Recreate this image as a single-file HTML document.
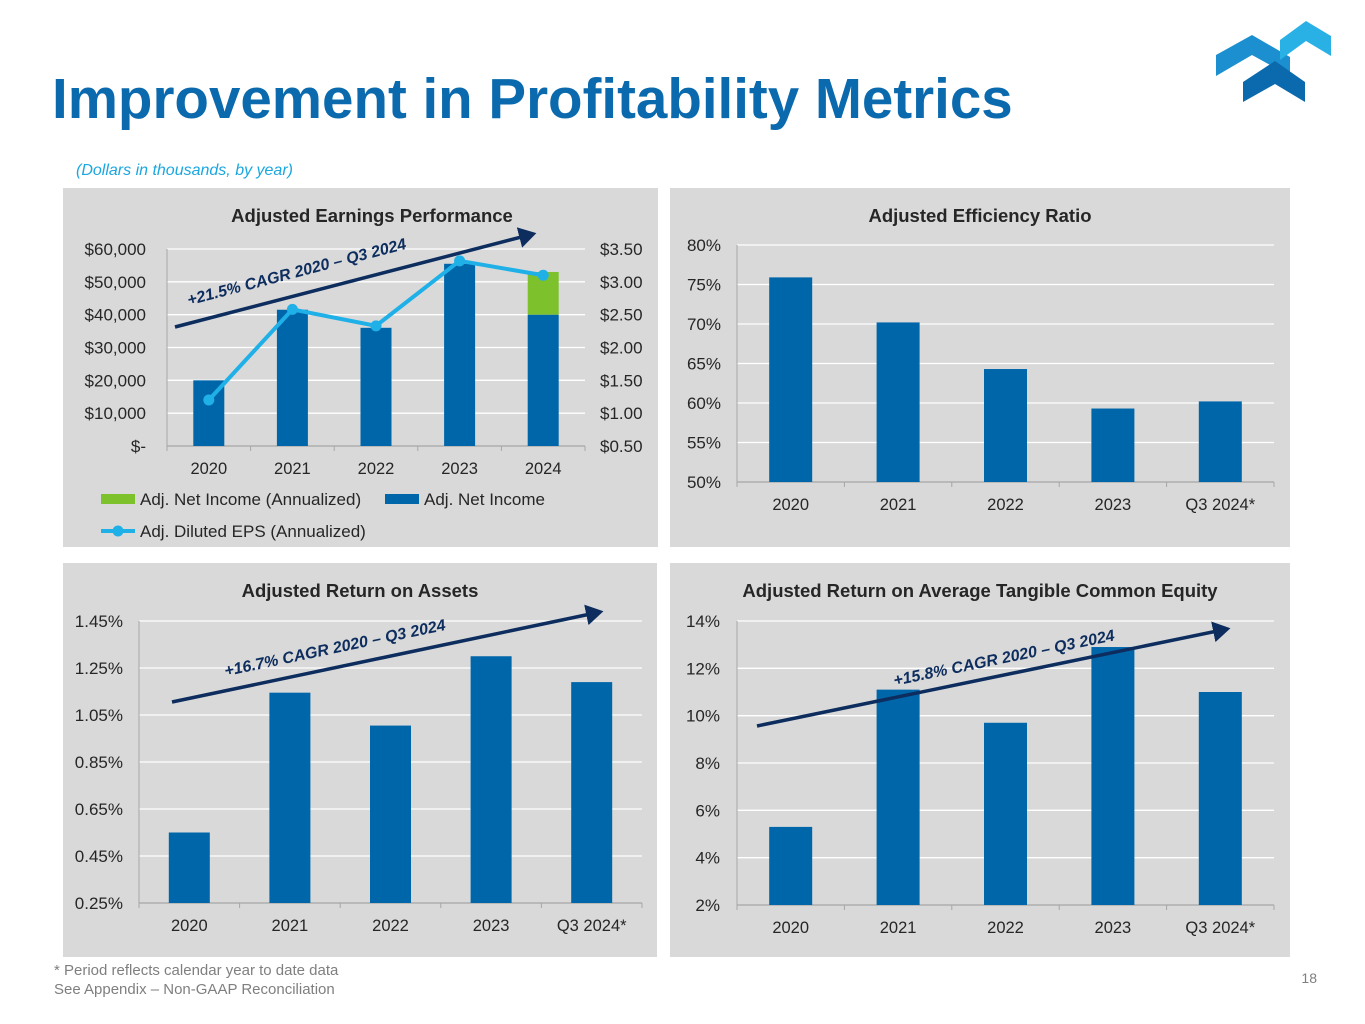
<!DOCTYPE html>
<html><head><meta charset="utf-8">
<style>
body{margin:0;background:#fff;width:1365px;height:1024px;overflow:hidden;font-family:"Liberation Sans",Arial,sans-serif;}
svg{display:block}
</style></head>
<body>
<svg id="s" width="1365" height="1024" viewBox="0 0 1365 1024" xmlns="http://www.w3.org/2000/svg" font-family="Liberation Sans, Arial, sans-serif">
<text x="52" y="118" font-size="56.5" font-weight="bold" fill="#0a6aad">Improvement in Profitability Metrics</text>
<text x="76" y="175" font-size="16" font-style="italic" fill="#1aa7e0">(Dollars in thousands, by year)</text>
<g>
<polygon points="1216,55 1252,35 1290,57 1290,76 1252,55 1216,76" fill="#1b8fd0"/>
<polygon points="1280,40 1306,21 1331,36 1331,56 1306,41 1280,60" fill="#29b1e6"/>
<polygon points="1243,82 1275,61 1305,82 1305,102 1275,84 1243,102" fill="#0a6aad"/>
</g>
<rect x="63" y="188" width="595" height="359" fill="#d9d9d9"/>
<rect x="670" y="188" width="620" height="359" fill="#d9d9d9"/>
<rect x="63" y="563" width="594" height="394" fill="#d9d9d9"/>
<rect x="670" y="563" width="620" height="394" fill="#d9d9d9"/>
<text x="372" y="222" font-size="18.5" font-weight="bold" fill="#262626" text-anchor="middle">Adjusted Earnings Performance</text>
<text x="980" y="222" font-size="18.5" font-weight="bold" fill="#262626" text-anchor="middle">Adjusted Efficiency Ratio</text>
<text x="360" y="597" font-size="18.5" font-weight="bold" fill="#262626" text-anchor="middle">Adjusted Return on Assets</text>
<text x="980" y="597" font-size="18.5" font-weight="bold" fill="#262626" text-anchor="middle">Adjusted Return on Average Tangible Common Equity</text>
<text x="54" y="975" font-size="15" fill="#7f7f7f">* Period reflects calendar year to date data</text>
<text x="54" y="994" font-size="15" fill="#7f7f7f">See Appendix – Non-GAAP Reconciliation</text>
<text x="1317" y="983" font-size="14" fill="#7f7f7f" text-anchor="end">18</text>
<defs><marker id="ah" markerWidth="6" markerHeight="6" refX="4" refY="3" orient="auto" markerUnits="strokeWidth"><path d="M0,0 L5,3 L0,6 z" fill="#0c2d5e"/></marker></defs>
<g id="g"></g>
</svg>
<script>
// Earnings chart data
const earnCats = ["2020","2021","2022","2023","2024"];
const netIncome = [20000,41500,36000,55500,40000];
const annualizedExtra = [0,0,0,0,13000];
const eps = [1.20,2.58,2.33,3.32,3.10];
const earnLeftTicks = [0,10000,20000,30000,40000,50000,60000];
const earnLeftLabels = ["$-","$10,000","$20,000","$30,000","$40,000","$50,000","$60,000"];
const earnRightTicks = [0.5,1,1.5,2,2.5,3,3.5];
const earnRightLabels = ["$0.50","$1.00","$1.50","$2.00","$2.50","$3.00","$3.50"];
// Efficiency ratio
const qCats = ["2020","2021","2022","2023","Q3 2024*"];
const efficiency = [75.9,70.2,64.3,59.3,60.2];
const effTicks = [50,55,60,65,70,75,80];
const effLabels = ["50%","55%","60%","65%","70%","75%","80%"];
// ROA
const roa = [0.55,1.145,1.005,1.30,1.19];
const roaTicks = [0.25,0.45,0.65,0.85,1.05,1.25,1.45];
const roaLabels = ["0.25%","0.45%","0.65%","0.85%","1.05%","1.25%","1.45%"];
// ROATCE
const rotce = [5.3,11.1,9.7,12.9,11.0];
const rotceTicks = [2,4,6,8,10,12,14];
const rotceLabels = ["2%","4%","6%","8%","10%","12%","14%"];

const NS="http://www.w3.org/2000/svg", G=document.getElementById('g');
function mk(t,a,p){const e=document.createElementNS(NS,t);for(const k in a)e.setAttribute(k,a[k]);(p||G).appendChild(e);return e;}
function txt(x,y,s,a){const e=mk('text',Object.assign({x:x,y:y,'font-size':17,fill:'#262626'},a||{}));e.textContent=s;return e;}

function frame(name,x0,x1,yTop,yBot,ticks,labels,cats,lo,hi,labelX){
  const ys=v=>yBot-(v-lo)/(hi-lo)*(yBot-yTop);
  const n=cats.length, step=(x1-x0)/n, xc=i=>x0+step*(i+0.5);
  ticks.forEach((t,i)=>{
    const gl=mk('line',{x1:x0,x2:x1,y1:ys(t),y2:ys(t),stroke:i==0?'#a6a6a6':'#fff','stroke-width':1.3});
    
    
    const tl=txt(labelX,ys(t)+6,labels[i],{'text-anchor':'end'});
    
    
  });
  mk('line',{x1:x0,x2:x0,y1:yTop,y2:yBot,stroke:'#a6a6a6'});
  for(let i=0;i<=n;i++)mk('line',{x1:x0+step*i,x2:x0+step*i,y1:yBot,y2:yBot+5,stroke:'#a6a6a6'});
  cats.forEach((c,i)=>{const e=txt(xc(i),yBot+28,c,{'text-anchor':'middle','font-size':16.5});
    
    });
  return {ys,xc};
}
function bars(name,f,vals,lo,w){
  vals.forEach((v,i)=>{const r=mk('rect',{x:f.xc(i)-w/2,y:f.ys(v),width:w,height:f.ys(lo)-f.ys(v),fill:'#0066aa'});
    
    });
}
function trend(name,xa,ya,xb,yb,label,tx,ty){
  const l=mk('line',{x1:xa,y1:ya,x2:xb,y2:yb,stroke:'#0c2d5e','stroke-width':3.5,'marker-end':'url(#ah)'});
  
  
  const ang=Math.atan2(yb-ya,xb-xa)*180/Math.PI;
  const t=txt(tx,ty,label,{'font-size':16,'font-weight':'bold','font-style':'italic',fill:'#0c2d5e','text-anchor':'middle',transform:`rotate(${ang} ${tx} ${ty})`});
  
  
}

// Earnings
const fe=frame('earnings',167,585,249,446,earnLeftTicks,earnLeftLabels,earnCats,0,60000,146);
earnRightTicks.forEach((t,i)=>{const e=txt(600,fe.ys((t-0.5)/3*60000)+6,earnRightLabels[i]);
  
  });
bars('earnings',fe,netIncome,0,31);
annualizedExtra.forEach((v,i)=>{if(!v)return;const top=netIncome[i]+v;
  const r=mk('rect',{x:fe.xc(i)-15.5,y:fe.ys(top),width:31,height:fe.ys(netIncome[i])-fe.ys(top),fill:'#7dc12d'});
  
  });
trend('earnings',175,327,533,234,'+21.5% CAGR 2020 – Q3 2024',298,277);
const ey=v=>fe.ys((v-0.5)/3*60000);
const pl=mk('polyline',{points:eps.map((v,i)=>fe.xc(i)+','+ey(v)).join(' '),fill:'none',stroke:'#1fb0e8','stroke-width':4});


eps.forEach((v,i)=>{const c=mk('circle',{cx:fe.xc(i),cy:ey(v),r:5.5,fill:'#1fb0e8'});
  
  });
// legend
let lg=mk('g',{});
mk('rect',{x:101,y:494,width:34,height:10,fill:'#7dc12d'},lg);
lg.appendChild(txt(140,505,'Adj. Net Income (Annualized)',{'font-size':17}));
mk('rect',{x:385,y:494,width:34,height:10,fill:'#0066aa'},lg);
lg.appendChild(txt(424,505,'Adj. Net Income',{'font-size':17}));
mk('line',{x1:101,x2:135,y1:531,y2:531,stroke:'#1fb0e8','stroke-width':4},lg);
mk('circle',{cx:118,cy:531,r:5.5,fill:'#1fb0e8'},lg);
lg.appendChild(txt(140,537,'Adj. Diluted EPS (Annualized)',{'font-size':17}));

// Efficiency
const ff=frame('efficiency',737,1274,245,482,effTicks,effLabels,qCats,50,80,721);
bars('efficiency',ff,efficiency,50,43);
// ROA
const fr=frame('roa',139,642,621,903,roaTicks,roaLabels,qCats,0.25,1.45,123);
bars('roa',fr,roa,0.25,41);
trend('roa',172,702,600,612,'+16.7% CAGR 2020 – Q3 2024',336,653);
// ROTCE
const ft=frame('rotce',737,1274,621,905,rotceTicks,rotceLabels,qCats,2,14,720);
bars('rotce',ft,rotce,2,43);
trend('rotce',757,726,1227,629,'+15.8% CAGR 2020 – Q3 2024',1005,663);
</script>
</body></html>
